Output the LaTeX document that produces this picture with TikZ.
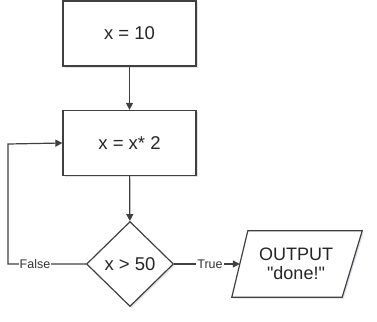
\documentclass[tikz,border=0pt]{standalone}
\usepackage{fontspec}
\setmainfont{Liberation Sans}[Ligatures=TeXOff]
\usetikzlibrary{shapes.geometric,arrows.meta,shadows}
\begin{document}
\begin{tikzpicture}[x=1pt,y=-1pt,
  shad/.style={drop shadow={shadow xshift=1.5pt,shadow yshift=-1.5pt,opacity=.18,fill=blue!30!gray}},
  box/.style={draw=black!75,line width=1.2pt,fill=white,minimum width=133pt,minimum height=65pt,font=\fontsize{18.5}{21}\selectfont,text=black!85,shad},
  dia/.style={draw=black!75,line width=1.2pt,fill=white,diamond,minimum width=87pt,minimum height=85pt,inner sep=0pt,aspect=1.02,font=\fontsize{18.5}{21}\selectfont,text=black!85,shad},
  io/.style={minimum width=112pt,minimum height=66pt,inner sep=0pt,align=center,font=\fontsize{18}{20}\selectfont,text=black!85},
  conn/.style={draw=black!75,line width=1.2pt,-{Triangle[length=7pt,width=7pt]}},
  lbl/.style={fill=white,inner sep=1pt,font=\fontsize{12.5}{14}\selectfont,text=black!80}]
\useasboundingbox (0,0) rectangle (377,321);
\node[box] (a) at (129.5,33.5) {x = 10};
\node[box] (b) at (129.5,143) {x = x* 2};
\node[dia] (c) at (130,264) {x > 50};
\node[io] (d) at (296,264) {};
\draw[draw=black!75,line width=1.2pt,fill=white,shad]
  ([xshift=8pt]d.north west) -- ([xshift=10pt]d.north east) -- ([xshift=-10pt]d.south east) -- ([xshift=-8pt]d.south west) -- cycle;
\node[io] at (d) {OUTPUT\\[-1pt]"done!"};
\coordinate (l1) at (8,264);
\coordinate (l2) at (8,144);
\draw[conn] (a) -- (b);
\draw[conn] (b) -- (c);
\draw[conn] (c.west) -- (l1) -- (l2) -- (b.west);
\draw[conn] (c.east) -- (d.west);
\node[lbl] at (35,264) {False};
\node[lbl] at (210,264) {True};
\end{tikzpicture}
\end{document}
